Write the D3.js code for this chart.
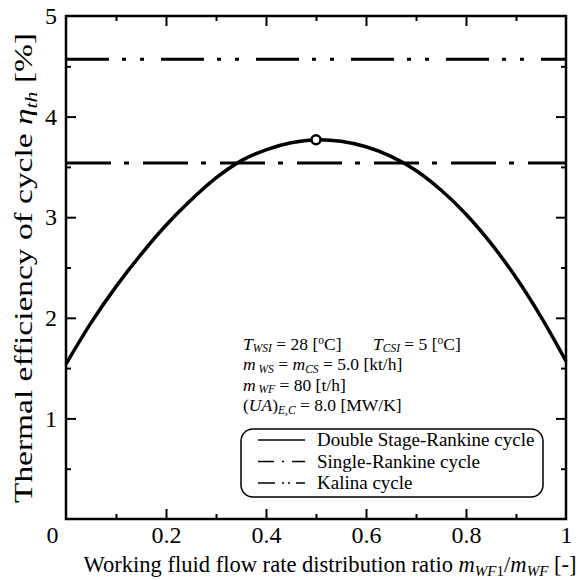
<!DOCTYPE html>
<html>
<head>
<meta charset="utf-8">
<script src="https://cdn.jsdelivr.net/npm/d3@7"></script>
<style>
  html, body { margin: 0; padding: 0; background: #fff; }
  svg { display: block; }
  text { font-family: "Liberation Serif", "Times New Roman", serif; fill: #000; }
</style>
</head>
<body>
<svg id="chart" width="578" height="580"></svg>
<script>
// ---- data ----
const ratio = [0, 0.05, 0.10, 0.15, 0.20, 0.25, 0.30, 0.35, 0.40, 0.45, 0.50,
               0.55, 0.60, 0.65, 0.70, 0.75, 0.80, 0.85, 0.90, 0.95, 1.00];
const doubleStageEff = [1.54, 1.95, 2.31, 2.63, 2.92, 3.17, 3.39, 3.56, 3.67, 3.74, 3.77,
                        3.755, 3.70, 3.605, 3.465, 3.27, 3.03, 2.74, 2.40, 2.01, 1.57];
const singleRankineEff = 3.54;
const kalinaEff = 4.57;
const xMajorTicks = [0, 0.2, 0.4, 0.6, 0.8, 1];
const xTickLabels = ["0", "0.2", "0.4", "0.6", "0.8", "1"];
const xMinorTicks = [0.1, 0.3, 0.5, 0.7, 0.9];
const yMajorTicks = [0, 1, 2, 3, 4, 5];
const yTickLabels = ["", "1", "2", "3", "4", "5"];
const yMinorTicks = [0.5, 1.5, 2.5, 3.5, 4.5];
const legendLabels = ["Double Stage-Rankine cycle", "Single-Rankine cycle", "Kalina cycle"];

// ---- layout ----
const svg = d3.select("#chart");
const L = 66, R = 566, T = 16, B = 519;
const x = d3.scaleLinear().domain([0, 1]).range([L, R]);
const y = d3.scaleLinear().domain([0, 5]).range([B, T]);
const tickFont = 24;

function styleAxis(g) {
  g.select(".domain").remove();
  g.selectAll(".tick line").attr("stroke", "#000").attr("stroke-width", 2);
  g.selectAll(".tick text").attr("font-size", tickFont).attr("font-family", null);
}

// bottom axis (major with labels)
const gxB = svg.append("g").attr("transform", `translate(0,${B})`)
  .call(d3.axisBottom(x).tickValues(xMajorTicks).tickSize(-10).tickPadding(7)
    .tickFormat((d, i) => xTickLabels[i]));
styleAxis(gxB);
gxB.selectAll(".tick text").filter(d => d === 0).attr("x", -14);
gxB.selectAll(".tick line").filter(d => d === 0 || d === 1).remove();
const gxBm = svg.append("g").attr("transform", `translate(0,${B})`)
  .call(d3.axisBottom(x).tickValues(xMinorTicks).tickSize(-5).tickFormat(""));
styleAxis(gxBm);
// top axis
const gxT = svg.append("g").attr("transform", `translate(0,${T})`)
  .call(d3.axisTop(x).tickValues(xMajorTicks.slice(1, -1)).tickSize(-10).tickFormat(""));
styleAxis(gxT);
const gxTm = svg.append("g").attr("transform", `translate(0,${T})`)
  .call(d3.axisTop(x).tickValues(xMinorTicks).tickSize(-5).tickFormat(""));
styleAxis(gxTm);
// left axis
const gyL = svg.append("g").attr("transform", `translate(${L},0)`)
  .call(d3.axisLeft(y).tickValues(yMajorTicks).tickSize(-10).tickPadding(9)
    .tickFormat((d, i) => yTickLabels[i]));
styleAxis(gyL);
gyL.selectAll(".tick line").filter(d => d === 0 || d === 5).remove();
const gyLm = svg.append("g").attr("transform", `translate(${L},0)`)
  .call(d3.axisLeft(y).tickValues(yMinorTicks).tickSize(-5).tickFormat(""));
styleAxis(gyLm);
// right axis
const gyR = svg.append("g").attr("transform", `translate(${R},0)`)
  .call(d3.axisRight(y).tickValues(yMajorTicks.slice(1, -1)).tickSize(-10).tickFormat(""));
styleAxis(gyR);
const gyRm = svg.append("g").attr("transform", `translate(${R},0)`)
  .call(d3.axisRight(y).tickValues(yMinorTicks).tickSize(-5).tickFormat(""));
styleAxis(gyRm);

// frame
svg.append("rect").attr("x", L).attr("y", T).attr("width", R - L).attr("height", B - T)
  .attr("fill", "none").attr("stroke", "#000").attr("stroke-width", 2.5);

// horizontal reference lines
svg.append("line")
  .attr("x1", x(0)).attr("x2", x(1)).attr("y1", y(kalinaEff)).attr("y2", y(kalinaEff))
  .attr("stroke", "#000").attr("stroke-width", 3).attr("stroke-dasharray", "43,13,4,14,4,17");
svg.append("line")
  .attr("x1", x(0)).attr("x2", x(1)).attr("y1", y(singleRankineEff)).attr("y2", y(singleRankineEff))
  .attr("stroke", "#000").attr("stroke-width", 3).attr("stroke-dasharray", "45,13,5,14");

// double stage curve
const pts = ratio.map((r, i) => [r, doubleStageEff[i]]);
svg.append("path").datum(pts)
  .attr("d", d3.line().x(d => x(d[0])).y(d => y(d[1])).curve(d3.curveCatmullRom.alpha(0.5)))
  .attr("fill", "none").attr("stroke", "#000").attr("stroke-width", 3.5);

// peak marker
const iMax = d3.maxIndex(doubleStageEff);
svg.append("circle").attr("cx", x(ratio[iMax])).attr("cy", y(doubleStageEff[iMax])).attr("r", 4.5)
  .attr("fill", "#fff").attr("stroke", "#000").attr("stroke-width", 2.5);

// axis titles
const yTitle = svg.append("text")
  .attr("transform", "translate(32,268) rotate(-90)")
  .attr("text-anchor", "middle").attr("font-size", 26)
  .attr("textLength", 470).attr("lengthAdjust", "spacingAndGlyphs");
yTitle.append("tspan").text("Thermal efficiency of cycle ");
yTitle.append("tspan").attr("font-style", "italic").text("η");
yTitle.append("tspan").attr("font-style", "italic").attr("font-size", 17).attr("dy", 5).text("th");
yTitle.append("tspan").attr("dy", -5).text(" [%]");

const xTitle = svg.append("text")
  .attr("x", 330).attr("y", 572).attr("text-anchor", "middle").attr("font-size", 22.5)
  .attr("textLength", 493).attr("lengthAdjust", "spacingAndGlyphs");
xTitle.append("tspan").text("Working fluid flow rate distribution ratio ");
xTitle.append("tspan").attr("font-style", "italic").text("m");
xTitle.append("tspan").attr("font-style", "italic").attr("font-size", 15).attr("dy", 4).text("WF");
xTitle.append("tspan").attr("font-size", 15).text("1");
xTitle.append("tspan").attr("dy", -4).text("/");
xTitle.append("tspan").attr("font-style", "italic").text("m");
xTitle.append("tspan").attr("font-style", "italic").attr("font-size", 15).attr("dy", 4).text("WF");
xTitle.append("tspan").attr("dy", -4).text(" [-]");

// annotation
const annFont = 17.5, subFont = 11.5;
function addLine(xp, yp, parts) {
  const t = svg.append("text").attr("x", xp).attr("y", yp).attr("font-size", annFont);
  parts.forEach(p => {
    const s = t.append("tspan").text(p.t);
    if (p.i) s.attr("font-style", "italic");
    if (p.sub) s.attr("font-size", subFont).attr("dy", 2.5);
    if (p.up) s.attr("dy", -2.5);
    if (p.sup) s.attr("font-size", subFont).attr("dy", -6);
    if (p.down) s.attr("dy", 6);
  });
}
addLine(243, 349.5, [{t: "T", i: 1}, {t: "WSI", i: 1, sub: 1}, {t: " = 28 [", up: 1}, {t: "o", sup: 1}, {t: "C]", down: 1}]);
addLine(373, 349.5, [{t: "T", i: 1}, {t: "CSI", i: 1, sub: 1}, {t: " = 5 [", up: 1}, {t: "o", sup: 1}, {t: "C]", down: 1}]);
addLine(243, 370, [{t: "m", i: 1}, {t: " WS", i: 1, sub: 1}, {t: " = ", up: 1}, {t: "m", i: 1}, {t: "CS", i: 1, sub: 1}, {t: " = 5.0 [kt/h]", up: 1}]);
addLine(243, 390.5, [{t: "m", i: 1}, {t: " WF", i: 1, sub: 1}, {t: " = 80 [t/h]", up: 1}]);
addLine(243, 411, [{t: "(", }, {t: "UA", i: 1}, {t: ")"}, {t: "E,C", i: 1, sub: 1}, {t: " = 8.0 [MW/K]", up: 1}]);

// legend
svg.append("rect").attr("x", 241).attr("y", 429).attr("width", 302).attr("height", 68).attr("rx", 12)
  .attr("fill", "#fff").attr("stroke", "#000").attr("stroke-width", 1.5);
const legDash = [null, "16,8,2,8,16", "17,7,2,4,2,6,16"];
legendLabels.forEach((lab, i) => {
  const yy = 440 + i * 21.5;
  svg.append("line").attr("x1", 258).attr("x2", 305).attr("y1", yy).attr("y2", yy)
    .attr("stroke", "#000").attr("stroke-width", 1.5).attr("stroke-dasharray", legDash[i]);
  svg.append("text").attr("x", 317).attr("y", yy + 6).attr("font-size", 19).text(lab);
});
</script>
</body>
</html>
